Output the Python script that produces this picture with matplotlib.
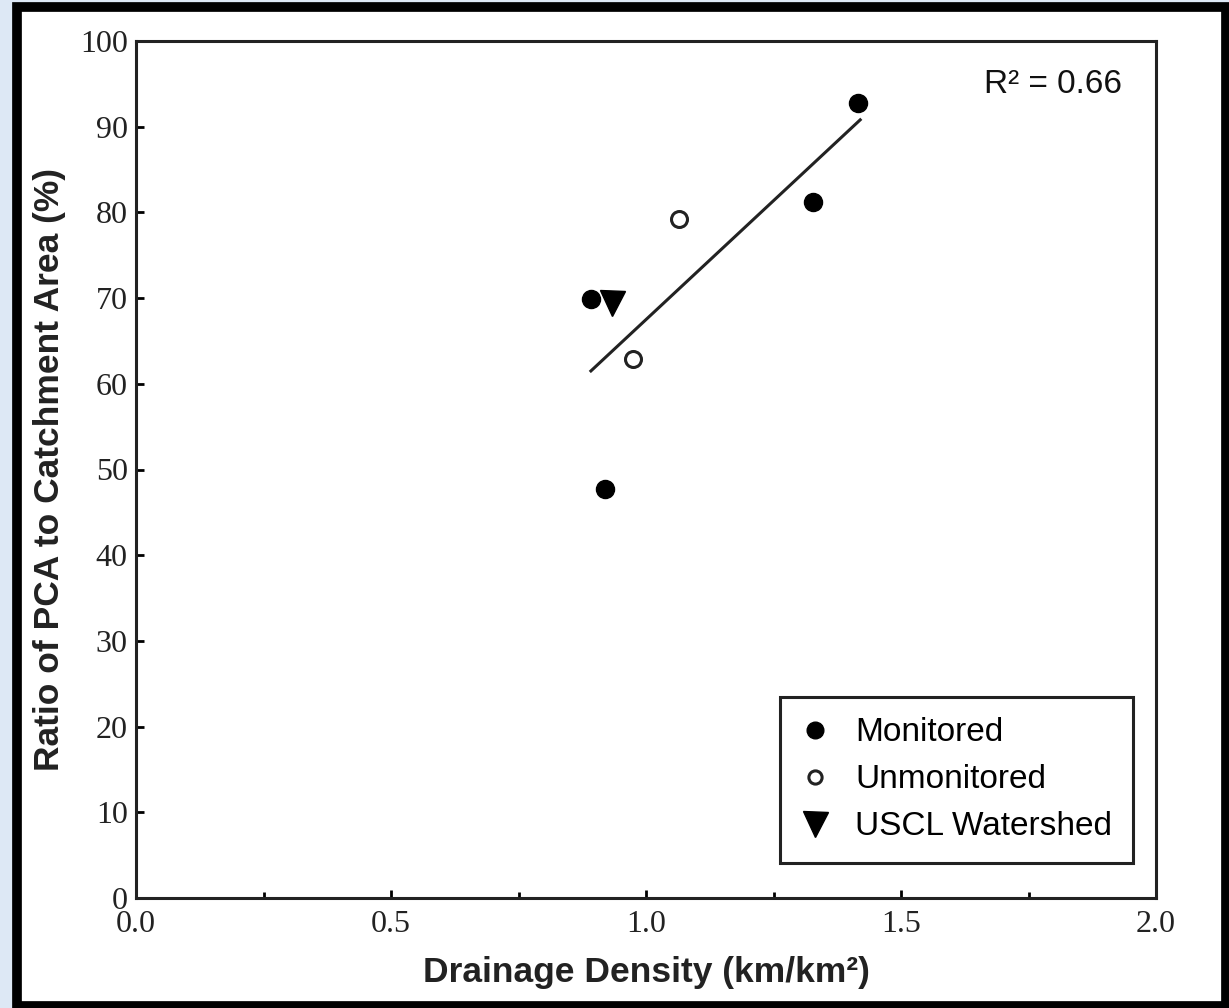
import matplotlib.pyplot as plt
from matplotlib.patches import Rectangle
from matplotlib.lines import Line2D

# data
mon_x = [0.892, 0.920, 1.327, 1.416]
mon_y = [69.9, 47.7, 81.2, 92.8]
unmon_x = [0.975, 1.065]
unmon_y = [62.9, 79.2]
uscl_x = [0.934]
uscl_y = [69.4]
fit_x = [0.892, 1.420]
fit_y = [61.5, 90.8]
r2_text = "R² = 0.66"

sans = ['Liberation Sans', 'DejaVu Sans']
serif = ['Liberation Serif', 'DejaVu Serif']

W, H = 1229, 1008
fig = plt.figure(figsize=(W / 100, H / 100), dpi=100)
fig.patch.set_facecolor('#dde8f5')
# black frame with white panel (edge centred on the frame band)
fig.patches.append(Rectangle((16.5 / W, 1 - 1006 / H), (1226 - 16.5) / W, (1006 - 7) / H,
                             transform=fig.transFigure, facecolor='white',
                             edgecolor='black', linewidth=7, zorder=-1))

ax = fig.add_axes([136 / W, 1 - 898 / H, (1156 - 136) / W, (898 - 41) / H])
ax.set_xlim(0, 2)
ax.set_ylim(0, 100)

ax.plot(fit_x, fit_y, color='#222222', lw=2.2)
ax.plot(mon_x, mon_y, 'o', color='black', ms=13, zorder=3)
ax.plot(unmon_x, unmon_y, 'o', mfc='white', mec='#222222', mew=2.2, ms=11.5, zorder=3)
ax.plot(uscl_x, uscl_y, 'v', color='black', ms=18, zorder=3)

ax.text(0.967, 0.949, r2_text, transform=ax.transAxes, ha='right', va='center',
        fontsize=24, family=sans, color='#111111')

ax.set_xticks([0, 0.5, 1.0, 1.5, 2.0])
ax.set_xticklabels(['0.0', '0.5', '1.0', '1.5', '2.0'])
ax.set_xticks([0.25, 0.75, 1.25, 1.75], minor=True)
ax.set_yticks(range(0, 101, 10))
ax.tick_params(axis='both', which='major', direction='in', length=6, width=2,
               labelsize=23, top=False, right=False)
ax.tick_params(axis='x', which='major', pad=9)
ax.tick_params(axis='y', which='major', pad=6)
ax.tick_params(axis='x', which='minor', direction='in', length=4, width=2)
for lab in ax.get_xticklabels() + ax.get_yticklabels():
    lab.set_family(serif)
    lab.set_color('#222222')
for sp in ax.spines.values():
    sp.set_linewidth(2.2)
    sp.set_color('#222222')

ax.set_xlabel('Drainage Density (km/km²)', fontsize=25.5, fontweight='bold',
              family=sans, color='#222222', labelpad=12)
ax.set_ylabel('Ratio of PCA to Catchment Area (%)', fontsize=25.5, fontweight='bold',
              family=sans, color='#222222', labelpad=10)

handles = [
    Line2D([], [], ls='none', marker='o', color='black', ms=12),
    Line2D([], [], ls='none', marker='o', mfc='white', mec='#222222', mew=2.2, ms=9.5),
    Line2D([], [], ls='none', marker='v', color='black', ms=18),
]
leg = ax.legend(handles, ['Monitored', 'Unmonitored', 'USCL Watershed'],
                loc='lower right', bbox_to_anchor=((1133 - 136) / 1020, (898 - 863) / 857),
                prop={'family': sans, 'size': 24}, frameon=True, fancybox=False,
                edgecolor='#222222', handlelength=0.9, handletextpad=0.75,
                labelspacing=0.48, borderpad=0.62, borderaxespad=0)
leg.get_frame().set_linewidth(2.2)
leg.get_frame().set_facecolor('white')
leg.get_frame().set_alpha(1)

fig.savefig('out.png', dpi=100, facecolor=fig.get_facecolor())
